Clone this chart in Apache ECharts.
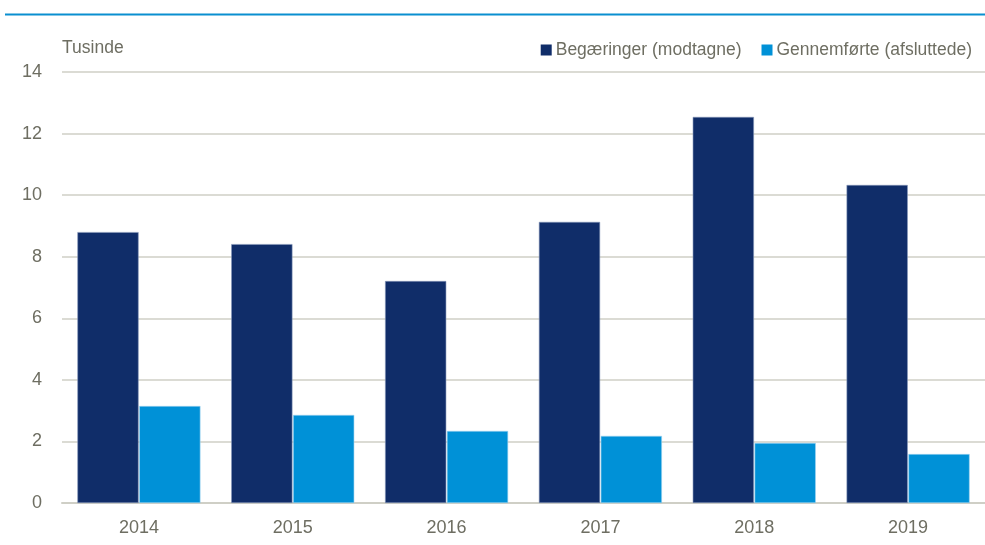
<!DOCTYPE html>
<html><head><meta charset="utf-8">
<script src="https://cdn.jsdelivr.net/npm/echarts@6/dist/echarts.min.js"></script>
<style>html,body{margin:0;padding:0;background:#fff}#c{width:985px;height:545px}</style>
</head><body><div id="c"></div>
<script>
const categories = ['2014','2015','2016','2017','2018','2019'];
const begaeringer = [8.80, 8.41, 7.21, 9.13, 12.54, 10.33];
const gennemfoerte = [3.15, 2.86, 2.34, 2.18, 1.95, 1.59];
const yTicks = [0,2,4,6,8,10,12,14];

const chart = echarts.init(document.getElementById('c'));
const txt = '#6e6e62';
const font = 'Liberation Sans, Arial, sans-serif';
chart.setOption({
  animation:false,
  textStyle:{fontFamily:font},
  graphic:[
    {type:'line', shape:{x1:5,y1:14.5,x2:985,y2:14.5}, style:{stroke:'#0a8fd0', lineWidth:2}},
    {type:'text', left:62, top:39, style:{text:'Tusinde', fill:txt, font:'17.5px '+font}}
  ],
  legend:{
    right:8, top:36, itemWidth:11, itemHeight:11, itemGap:20, icon:'rect',
    itemStyle:{borderWidth:0},
    textStyle:{color:txt, fontSize:17.5, fontFamily:font, padding:[0,0,0,-1]},
    data:['Begæringer (modtagne)','Gennemførte (afsluttede)']
  },
  grid:{left:62, right:0, top:72, bottom:42},
  xAxis:{
    type:'category', data:categories,
    axisLine:{lineStyle:{color:'#cfcfc6', width:2}},
    axisTick:{show:false},
    axisLabel:{color:txt, fontSize:18, margin:16, fontFamily:font}
  },
  yAxis:{
    type:'value', min:0, max:14, interval:2,
    axisLine:{show:false}, axisTick:{show:false},
    axisLabel:{color:txt, fontSize:18, margin:20, fontFamily:font,
      formatter:v=>yTicks.includes(v)?String(v):''},
    splitLine:{lineStyle:{color:'#cfcfc6', width:1.5}}
  },
  series:[
    {name:'Begæringer (modtagne)', type:'bar', data:begaeringer, barGap:'1%', barCategoryGap:'20%',
     itemStyle:{color:'#102d69', borderColor:'#8797b8', borderWidth:0.6}},
    {name:'Gennemførte (afsluttede)', type:'bar', data:gennemfoerte,
     itemStyle:{color:'#0091d7', borderColor:'#9fd3f0', borderWidth:0.6}}
  ]
});
</script></body></html>
